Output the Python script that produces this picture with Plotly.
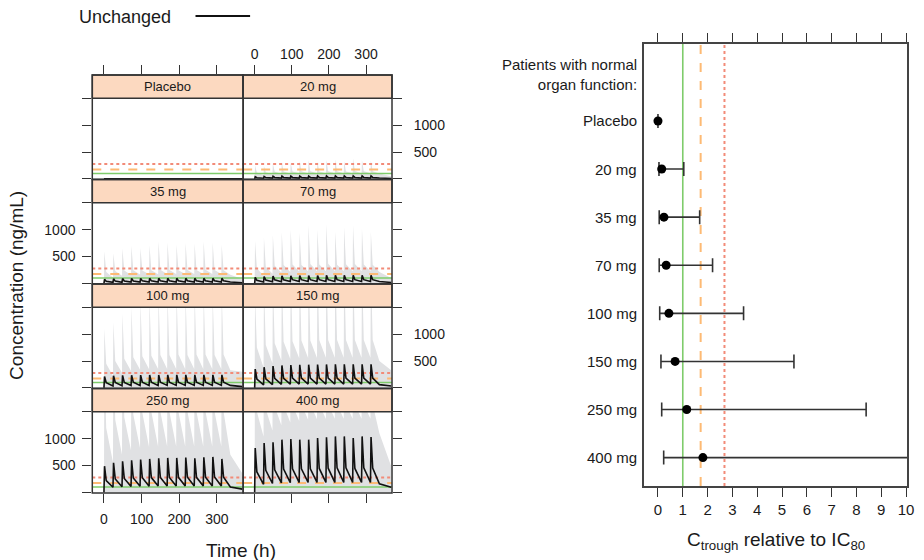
import plotly.graph_objects as go

# ---------------- data ----------------
PANELS = ["Placebo", "20 mg", "35 mg", "70 mg", "100 mg", "150 mg", "250 mg", "400 mg"]
DOSE_TIMES = [0, 24, 48, 72, 96, 120, 144, 168, 192, 216, 240, 264, 288, 312]
T_AFTER = 336
T_END = 368
X_TICKS = [0, 100, 200, 300]
Y_TICKS = [500, 1000]
Y_TICKTEXT = ["500", "1000"]
Y_MINOR_TICKS = [0, 1500]

# median ("Unchanged") concentration: pre-dose troughs (15: each dose + 336 h), peaks, 6-h values
MED_TROUGH = [
    [0] * 15,
    [0, 11, 13, 14, 15, 15, 15, 15, 15, 15, 15, 15, 15, 15, 15],
    [0, 18, 21, 23, 24, 25, 25, 25, 25, 25, 25, 25, 25, 25, 25],
    [0, 25, 29, 31, 33, 34, 34, 34, 34, 34, 34, 34, 34, 34, 34],
    [0, 35, 40, 43, 44, 45, 45, 46, 46, 46, 46, 46, 46, 46, 46],
    [0, 55, 62, 66, 68, 70, 70, 71, 71, 71, 71, 71, 71, 71, 60],
    [0, 95, 105, 110, 114, 116, 117, 118, 118, 118, 118, 118, 118, 118, 100],
    [0, 150, 165, 175, 180, 183, 185, 185, 185, 185, 185, 185, 185, 185, 160],
]
MED_PEAK = [
    [0] * 14,
    [38, 45, 48, 50, 51, 52, 52, 53, 53, 53, 53, 53, 53, 53],
    [75, 85, 90, 92, 93, 94, 95, 95, 95, 95, 95, 95, 95, 95],
    [110, 125, 135, 140, 142, 145, 146, 147, 148, 148, 148, 148, 148, 148],
    [210, 225, 232, 236, 238, 240, 240, 241, 242, 242, 242, 242, 242, 242],
    [350, 385, 405, 418, 425, 430, 432, 434, 436, 437, 438, 438, 438, 438],
    [487, 549, 580, 598, 611, 623, 635, 641, 641, 648, 635, 654, 660, 623],
    [827, 919, 931, 981, 993, 981, 981, 1011, 1024, 1042, 1042, 1011, 1042, 1030],
]
MED_MID = [
    [0] * 14,
    [20, 24, 25, 26, 26, 26, 26, 26, 26, 26, 26, 26, 26, 26],
    [38, 42, 44, 45, 46, 46, 46, 46, 46, 46, 46, 46, 46, 46],
    [55, 62, 65, 67, 68, 68, 68, 68, 68, 68, 68, 68, 68, 68],
    [95, 100, 102, 104, 105, 105, 105, 105, 105, 105, 105, 105, 105, 105],
    [165, 170, 175, 178, 180, 180, 181, 181, 182, 182, 182, 182, 182, 182],
    [220, 250, 260, 268, 272, 275, 277, 279, 280, 281, 280, 283, 286, 280],
    [380, 410, 420, 435, 440, 437, 437, 445, 450, 455, 455, 445, 455, 452],
]
MED_END = [0, 7, 12, 16, 22, 35, 60, 95]

# upper limit of the grey prediction band
UP_TROUGH = [
    [0] * 15,
    [0, 70, 85, 95, 100, 104, 105, 106, 106, 106, 106, 106, 106, 106, 100],
    [0, 110, 140, 155, 165, 170, 171, 172, 172, 172, 172, 172, 172, 172, 160],
    [0, 140, 180, 200, 212, 220, 224, 225, 225, 225, 225, 225, 225, 225, 210],
    [0, 220, 280, 315, 335, 345, 350, 352, 352, 352, 352, 352, 352, 352, 330],
    [0, 380, 460, 510, 535, 550, 555, 558, 559, 559, 559, 559, 559, 559, 500],
    [0, 560, 700, 780, 820, 840, 850, 855, 856, 856, 856, 856, 856, 856, 700],
    [0, 1040, 1150, 1250, 1300, 1330, 1350, 1360, 1365, 1370, 1370, 1370, 1370, 1370, 1100],
]
UP_PEAK = [
    [0] * 14,
    [250, 240, 290, 310, 300, 330, 345, 320, 350, 360, 330, 380, 350, 340],
    [600, 560, 650, 700, 660, 710, 780, 760, 720, 750, 740, 780, 760, 720],
    [790, 850, 900, 950, 1000, 940, 1080, 1000, 1100, 960, 1050, 1080, 1020, 960],
    [1100, 1220, 1380, 1500, 1600, 1650, 1700, 1700, 1750, 1700, 1750, 1750, 1700, 1750],
    [1700, 1900, 2000, 2100, 2150, 2200, 2200, 2250, 2250, 2250, 2250, 2250, 2250, 2250],
    [2500, 2800, 3000, 3100, 3200, 3200, 3200, 3200, 3200, 3200, 3200, 3200, 3200, 3200],
    [3500, 3900, 4200, 4400, 4500, 4500, 4500, 4500, 4500, 4500, 4500, 4500, 4500, 4500],
]
UP_MID = [
    [0] * 14,
    [120, 125, 130, 135, 135, 140, 140, 135, 140, 140, 135, 145, 140, 140],
    [210, 230, 240, 245, 240, 245, 255, 250, 245, 250, 250, 255, 250, 245],
    [280, 310, 330, 340, 350, 340, 360, 350, 365, 345, 355, 360, 350, 345],
    [450, 500, 540, 570, 590, 600, 610, 610, 620, 610, 620, 620, 610, 620],
    [750, 800, 830, 860, 870, 880, 880, 890, 890, 890, 890, 890, 890, 890],
    [1200, 1350, 1400, 1450, 1480, 1500, 1500, 1500, 1500, 1500, 1500, 1500, 1500, 1500],
    [1500, 1550, 1600, 1620, 1630, 1640, 1640, 1640, 1640, 1640, 1640, 1640, 1640, 1640],
]
UP_END = [0, 50, 80, 100, 300, 330, 350, 480]

CONC_REFS = [100, 176, 275]          # ng/mL: IC80 and two higher thresholds
# right panel: Ctrough relative to IC80
CTR_MED = [0, 0.15, 0.24, 0.33, 0.44, 0.69, 1.16, 1.81]
CTR_LO = [0, 0.04, 0.05, 0.05, 0.07, 0.12, 0.15, 0.23]
CTR_HI = [0, 1.04, 1.68, 2.20, 3.45, 5.48, 8.39, 12.5]
REL_REFS = [1, 1.72, 2.68]
REL_TICKS = list(range(0, 11))

# ---------------- styling / geometry ----------------
W, H = 924, 560
FONT = "Liberation Sans, Arial, sans-serif"
TXT = "#1a1a1a"
FRAME = "#333333"
STRIP = "#FCD9C0"
BAND = "#E0E1E3"
REF_COLORS = ["#7FCC6B", "#FDBA74", "#F28B78"]
REF_DASH = ["solid", "dash", "dot"]
REF_W = [1.6, 2, 2]


def px(x):
    return x / W


def py(y):
    return 1 - y / H


COL_X = [(93, 245), (245, 395)]
ROW_TOP = [75, 179.5, 284, 388.5]
PANEL_H = 104.5
STRIP_H = 23.3
Y_LO, Y_TOP = -12, 1500
PLOT_H = PANEL_H - STRIP_H
Y_HI = Y_TOP + STRIP_H * (Y_TOP - Y_LO) / PLOT_H
X_RANGE = [-31, 370]


def build_series(trough, peak, mid, end, t_peak, t_mid):
    t, v = [], []
    for i, d in enumerate(DOSE_TIMES):
        t += [d, d + t_peak, d + t_mid]
        v += [trough[i], peak[i], mid[i]]
    t += [T_AFTER, T_END]
    v += [trough[-1], end]
    return t, v


fig = go.Figure()
shapes, annotations = [], []
layout = {}
TICK_STYLE = dict(ticks="outside", ticklen=9, tickcolor=FRAME, tickwidth=1.3)

for idx, name in enumerate(PANELS):
    r, c = divmod(idx, 2)
    k = idx + 1
    xa, ya = f"x{k}", f"y{k}"
    is_placebo = name == "Placebo"
    # grey band
    if not is_placebo:
        tu, vu = build_series(UP_TROUGH[idx], UP_PEAK[idx], UP_MID[idx], UP_END[idx], 1, 6)
        fig.add_trace(go.Scatter(x=tu, y=vu, mode="lines", line=dict(width=0, color=BAND),
                                 fill="tozeroy", fillcolor=BAND, xaxis=xa, yaxis=ya,
                                 showlegend=False, hoverinfo="skip"))
    # reference lines
    for val, col, dash, lw in zip(CONC_REFS, REF_COLORS, REF_DASH, REF_W):
        fig.add_trace(go.Scatter(x=X_RANGE, y=[val, val], mode="lines",
                                 line=dict(color=col, dash=dash, width=lw),
                                 xaxis=xa, yaxis=ya, showlegend=False, hoverinfo="skip"))
    # median line
    if is_placebo:
        tm, vm = [0, T_END], [0, 0]
    else:
        tm, vm = build_series(MED_TROUGH[idx], MED_PEAK[idx], MED_MID[idx], MED_END[idx], 1.5, 6)
    fig.add_trace(go.Scatter(x=tm, y=vm, mode="lines", line=dict(color="#111111", width=1.6),
                             xaxis=xa, yaxis=ya, showlegend=False))

    x0, x1 = COL_X[c]
    top = ROW_TOP[r]
    bot = top + PANEL_H
    xkey = "xaxis" if k == 1 else f"xaxis{k}"
    ykey = "yaxis" if k == 1 else f"yaxis{k}"
    xax = dict(domain=[px(x0), px(x1)], range=X_RANGE, anchor=ya, showgrid=False,
               zeroline=False, showline=False, tickvals=X_TICKS,
               tickfont=dict(size=14, color=TXT, family=FONT))
    if r == 0:
        xax.update(side="top", showticklabels=(c == 1), **TICK_STYLE)
    elif r == 3:
        xax.update(side="bottom", showticklabels=(c == 0), ticklabelstandoff=4, **TICK_STYLE)
    else:
        xax.update(ticks="", showticklabels=False)
    show_lab = (c == 0 and r in (1, 3)) or (c == 1 and r in (0, 2))
    yax = dict(domain=[py(bot), py(top)], range=[Y_LO, Y_HI], anchor=xa, showgrid=False,
               zeroline=False, showline=False, side="left" if c == 0 else "right",
               tickvals=Y_TICKS, ticktext=Y_TICKTEXT, showticklabels=show_lab,
               ticklabelstandoff=4 if c == 0 else 9,
               minor=dict(tickvals=Y_MINOR_TICKS, showgrid=False, **TICK_STYLE),
               tickfont=dict(size=14, color=TXT, family=FONT), **TICK_STYLE)
    layout[xkey] = xax
    layout[ykey] = yax

    # strip and panel frame
    shapes.append(dict(type="rect", xref="paper", yref="paper", x0=px(x0), x1=px(x1),
                       y0=py(top + STRIP_H), y1=py(top), fillcolor=STRIP,
                       line=dict(color=FRAME, width=1.5), layer="above"))
    shapes.append(dict(type="rect", xref="paper", yref="paper", x0=px(x0), x1=px(x1),
                       y0=py(bot), y1=py(top), line=dict(color=FRAME, width=1.5), layer="above"))
    annotations.append(dict(text=name, xref="paper", yref="paper", x=px((x0 + x1) / 2),
                            y=py(top + STRIP_H / 2), showarrow=False, xanchor="center",
                            yanchor="middle", font=dict(size=13, color=TXT, family=FONT)))

# ---------------- right panel ----------------
YPOS = list(range(1, len(PANELS) + 1))
Y9_RANGE = [8.59, -0.6]
X9_RANGE = [-0.56, 10.04]
for val, col, dash, lw in zip(REL_REFS, REF_COLORS, REF_DASH, REF_W):
    fig.add_trace(go.Scatter(x=[val, val], y=Y9_RANGE, mode="lines",
                             line=dict(color=col, dash=dash, width=lw),
                             xaxis="x9", yaxis="y9", showlegend=False, hoverinfo="skip"))
fig.add_trace(go.Scatter(
    x=CTR_MED, y=YPOS, mode="markers", xaxis="x9", yaxis="y9", showlegend=False,
    marker=dict(color="#000000", size=9),
    error_x=dict(type="data", symmetric=False,
                 array=[h - m for h, m in zip(CTR_HI, CTR_MED)],
                 arrayminus=[m - l for m, l in zip(CTR_MED, CTR_LO)],
                 color="#333333", thickness=1.6, width=7)))
layout["xaxis9"] = dict(domain=[px(649), px(914)], range=X9_RANGE, anchor="y9",
                        tickvals=REL_TICKS, showline=True, linecolor="#444444", linewidth=1.6,
                        mirror="ticks", showgrid=False, zeroline=False,
                        tickfont=dict(size=15, color=TXT, family=FONT), **TICK_STYLE)
layout["yaxis9"] = dict(domain=[py(486), py(44)], range=Y9_RANGE, anchor="x9",
                        showline=True, linecolor="#444444", linewidth=1.6, mirror=True,
                        ticks="", showticklabels=False, showgrid=False, zeroline=False)
annotations.append(dict(text="Patients with normal<br>organ function:", xref="paper", yref="y9",
                        x=px(644), y=0.03, xanchor="right", yanchor="middle", align="right",
                        showarrow=False, font=dict(size=15, color=TXT, family=FONT)))
for name, yv in zip(PANELS, YPOS):
    annotations.append(dict(text=name, xref="paper", yref="y9", x=px(644), y=yv,
                            xanchor="right", yanchor="middle", showarrow=False,
                            font=dict(size=15, color=TXT, family=FONT)))

# ---------------- titles / legend ----------------
annotations += [
    dict(text="Unchanged", xref="paper", yref="paper", x=px(78), y=py(17), xanchor="left",
         yanchor="middle", showarrow=False, font=dict(size=18, color=TXT, family=FONT)),
    dict(text="Concentration (ng/mL)", xref="paper", yref="paper", x=px(16), y=py(285),
         textangle=-90, xanchor="center", yanchor="middle", showarrow=False,
         font=dict(size=19, color=TXT, family=FONT)),
    dict(text="Time (h)", xref="paper", yref="paper", x=px(243), y=py(550), xanchor="center",
         yanchor="middle", showarrow=False, font=dict(size=19, color=TXT, family=FONT)),
    dict(text="C<sub>trough</sub> relative to IC<sub>80</sub>", xref="paper", yref="paper",
         x=px(782), y=py(541), xanchor="center", yanchor="middle", showarrow=False,
         font=dict(size=19, color=TXT, family=FONT)),
]
shapes.append(dict(type="line", xref="paper", yref="paper", x0=px(197), x1=px(252),
                   y0=py(16), y1=py(16), line=dict(color="#111111", width=2)))

fig.update_layout(width=W, height=H, margin=dict(l=0, r=0, t=0, b=0),
                  paper_bgcolor="white", plot_bgcolor="white", showlegend=False,
                  shapes=shapes, annotations=annotations, font=dict(family=FONT, color=TXT),
                  **layout)
fig.write_html("out.html")
